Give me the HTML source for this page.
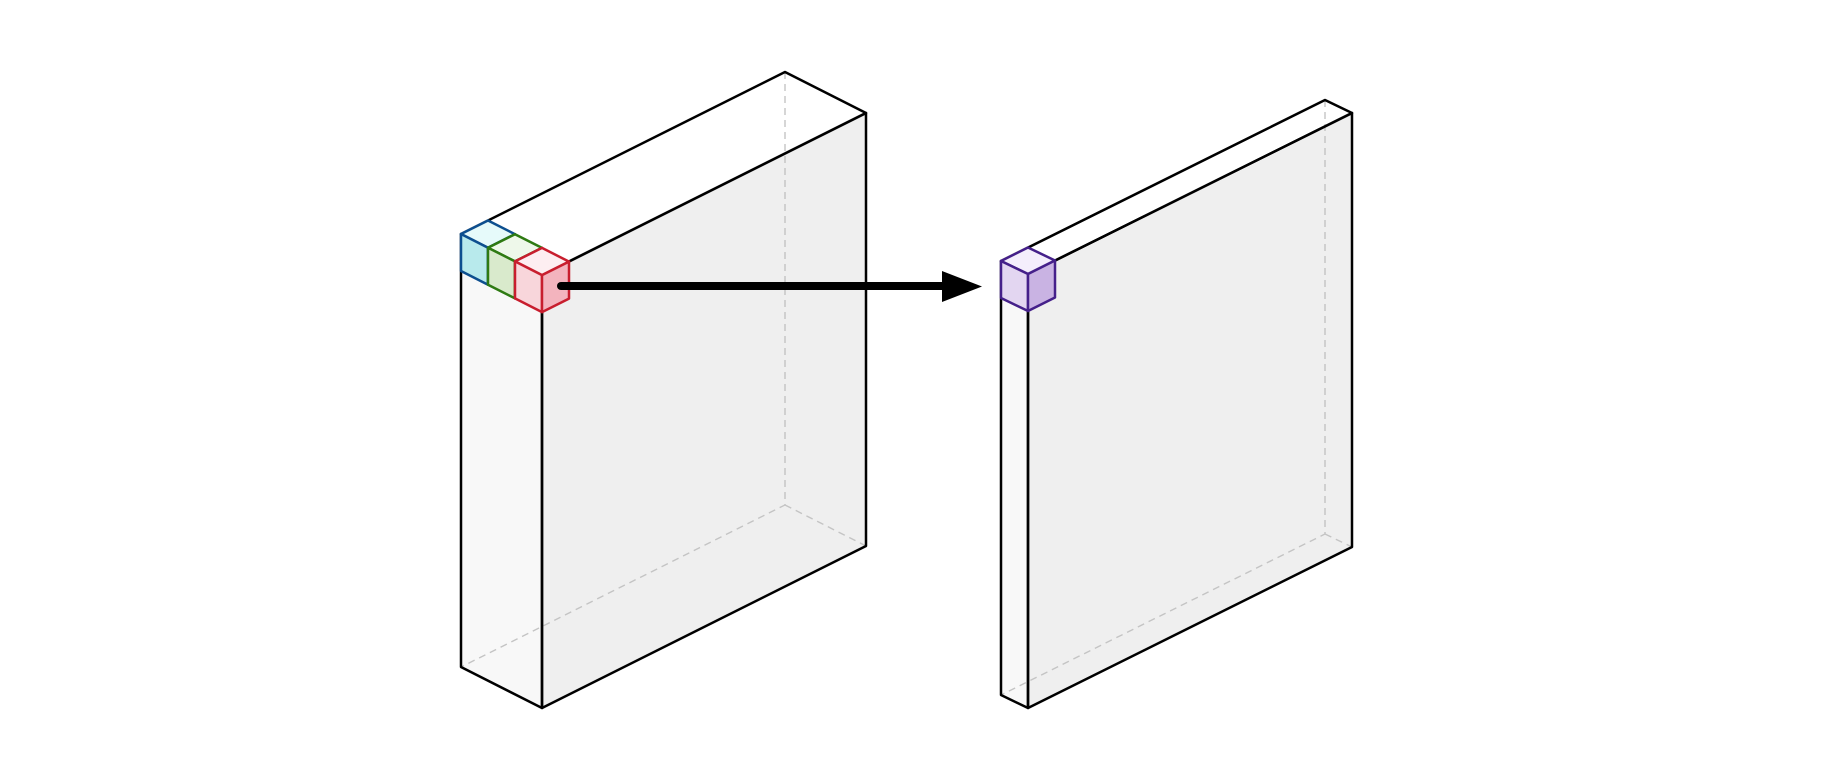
<!DOCTYPE html>
<html><head><meta charset="utf-8"><style>html,body{margin:0;padding:0;background:#fff}svg{display:block}</style></head>
<body>
<svg id="scene" width="1830" height="762" viewBox="0 0 1830 762" xmlns="http://www.w3.org/2000/svg"></svg>
<script>
const NS='http://www.w3.org/2000/svg';
const svg=document.getElementById('scene');
function el(tag,attrs,name){const e=document.createElementNS(NS,tag);for(const k in attrs)e.setAttribute(k,attrs[k]);


svg.appendChild(e);return e;}
const add=(a,b)=>[a[0]+b[0],a[1]+b[1]];
const pts=a=>a.map(p=>p.join(',')).join(' ');
function block(L,u,v,h,prefix){
  const H=[0,h];
  const F=add(L,u), B=add(L,v), R=add(F,v);
  const Bb=add(B,H);
  el('polygon',{points:pts([L,F,add(F,H),add(L,H)]),fill:'#f8f8f8',stroke:'none'},prefix+'-left-face');
  el('polygon',{points:pts([F,R,add(R,H),add(F,H)]),fill:'#efefef',stroke:'none'},prefix+'-front-face');
  el('polyline',{points:pts([B,Bb,add(L,H)]),fill:'none',stroke:'#c4c4c4','stroke-width':1.4,'stroke-dasharray':'7,5'},prefix+'-hidden-edges');
  el('line',{x1:Bb[0],y1:Bb[1],x2:add(R,H)[0],y2:add(R,H)[1],stroke:'#c4c4c4','stroke-width':1.4,'stroke-dasharray':'7,5'},prefix+'-hidden-edge-right');
  el('polygon',{points:pts([L,F,add(F,H),add(L,H)]),fill:'none',stroke:'#000','stroke-width':2.5,'stroke-linejoin':'round'},prefix+'-left-outline');
  el('polygon',{points:pts([F,R,add(R,H),add(F,H)]),fill:'none',stroke:'#000','stroke-width':2.5,'stroke-linejoin':'round'},prefix+'-front-outline');
  el('polygon',{points:pts([L,B,R,F]),fill:'none',stroke:'#000','stroke-width':2.5,'stroke-linejoin':'round'},prefix+'-top-face');
}
function cube(P,u,v,h,stroke,top,left,right,name){
  const H=[0,h];
  el('polygon',{points:pts([P,add(P,v),add(add(P,v),u),add(P,u)]),fill:top,stroke:stroke,'stroke-width':2.5,'stroke-linejoin':'round'},name+'-top');
  el('polygon',{points:pts([P,add(P,u),add(add(P,u),H),add(P,H)]),fill:left,stroke:stroke,'stroke-width':2.5,'stroke-linejoin':'round'},name+'-left');
  el('polygon',{points:pts([add(P,u),add(add(P,u),v),add(add(add(P,u),v),H),add(add(P,u),H)]),fill:right,stroke:stroke,'stroke-width':2.5,'stroke-linejoin':'round'},name+'-right');
}
block([461,234],[81,41],[324,-162],433,'input-volume');
const cu=[27,13.7], cv=[27,-13.5], ch=37;
cube([461,234],cu,cv,ch,'#0d4f8f','#e6fafa','#b8eaec','#a8dde2','blue-kernel-cube');
cube([488,247.7],cu,cv,ch,'#2e7a12','#eef8ea','#d9eacc','#c8e0b8','green-kernel-cube');
cube([515,261.4],cu,cv,ch,'#c81e2e','#fdeef1','#f8d6db','#f3b4be','red-kernel-cube');
block([1001,261],[27,13],[324,-161],434,'output-volume');
cube([1001,261],[27,13],cv,37,'#45208a','#f4eefc','#e3d6f1','#c9b3e3','purple-output-cube');
el('line',{x1:561,y1:286,x2:945,y2:286,stroke:'#000','stroke-width':8,'stroke-linecap':'round'},'arrow-shaft');
el('polygon',{points:'942,271 982,286.5 942,302',fill:'#000'},'arrow-head');
</script>
</body></html>
